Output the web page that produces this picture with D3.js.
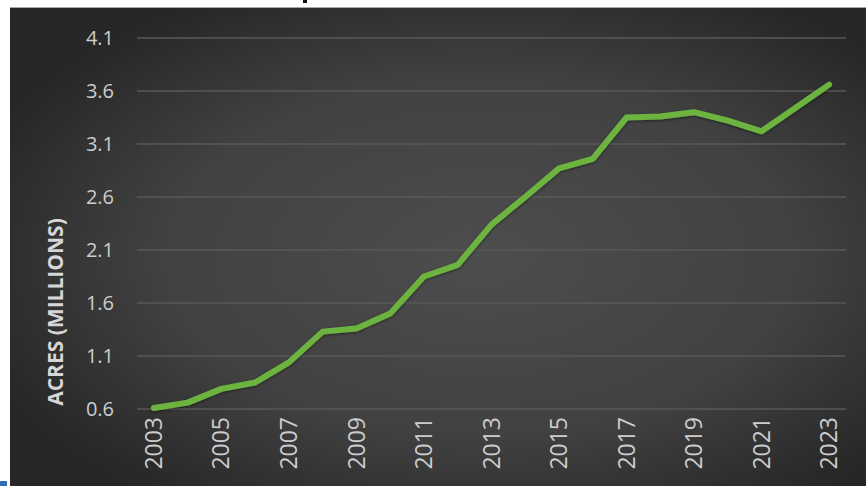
<!DOCTYPE html>
<html lang="en">

<head>
  <meta charset="UTF-8">
  <title>Acres (millions)</title>
  <style>
    body {
      margin: 0;
      background: #fff;
    }

    svg {
      display: block;
    }

    .grid line {
      stroke: #585858;
      stroke-width: 1.5;
    }

    .tick-label {
      font-family: "Open Sans", sans-serif;
      fill: #cdcdcd;
    }

    .y-label {
      font-size: 20px;
    }

    .x-label {
      font-size: 23px;
    }

    .axis-title {
      font-family: "Open Sans", sans-serif;
      font-size: 21px;
      font-weight: bold;
      fill: #d6d6d6;
    }

    .series {
      fill: none;
      stroke: #6cb33f;
      stroke-width: 6;
      stroke-linejoin: round;
      stroke-linecap: round;
    }
  </style>
</head>

<body>
  <div id="chart"></div>

  <script src="https://d3js.org/d3.v7.min.js"></script>

  <script>
    const years = d3.range(2003, 2024);
    const acres = [0.61, 0.66, 0.79, 0.85, 1.04, 1.33, 1.36, 1.50, 1.85, 1.96,
      2.34, 2.60, 2.87, 2.96, 3.35, 3.36, 3.40, 3.32, 3.22, 3.44, 3.66];
    const yTicks = [0.6, 1.1, 1.6, 2.1, 2.6, 3.1, 3.6, 4.1];
    const xLabels = years.filter((d, i) => i % 2 === 0);

    (function () {
      const width = 866;
      const height = 486;
      const panel = { x: 10, y: 8 };
      const plot = { left: 137, right: 846, top: 38, bottom: 409 };

      const svg = d3.select('#chart')
        .append('svg')
        .attr('width', width)
        .attr('height', height);

      const defs = svg.append('defs');
      const grad = defs.append('radialGradient')
        .attr('id', 'bg')
        .attr('cx', '55%')
        .attr('cy', '52%')
        .attr('r', '62%');
      grad.append('stop').attr('offset', '0%').attr('stop-color', '#4d4d4d');
      grad.append('stop').attr('offset', '60%').attr('stop-color', '#414141');
      grad.append('stop').attr('offset', '100%').attr('stop-color', '#272727');

      const shadow = defs.append('filter')
        .attr('id', 'shadow')
        .attr('x', '-5%').attr('y', '-5%')
        .attr('width', '110%').attr('height', '110%');
      shadow.append('feDropShadow')
        .attr('dx', 0).attr('dy', 1)
        .attr('stdDeviation', 1.5)
        .attr('flood-color', '#000')
        .attr('flood-opacity', 0.5);

      // bit of the cropped-off title above the panel
      svg.append('rect')
        .attr('x', 303)
        .attr('y', 0)
        .attr('width', 4)
        .attr('height', 3)
        .attr('fill', '#111');

      // background panel
      svg.append('rect')
        .attr('x', panel.x)
        .attr('y', panel.y - 1)
        .attr('width', width - panel.x)
        .attr('height', 1.5)
        .attr('fill', '#a8a8a8');
      svg.append('rect')
        .attr('x', panel.x)
        .attr('y', panel.y)
        .attr('width', width - panel.x)
        .attr('height', height - panel.y)
        .attr('fill', 'url(#bg)');

      // small blue mark bottom-left
      svg.append('rect')
        .attr('x', 0)
        .attr('y', 481)
        .attr('width', 7)
        .attr('height', 5)
        .attr('fill', '#2f6db5');

      const x = d3.scaleBand()
        .domain(years)
        .range([plot.left, plot.right]);

      const y = d3.scaleLinear()
        .domain([0.6, 4.1])
        .range([plot.bottom, plot.top]);

      // gridlines
      svg.append('g')
        .classed('grid', true)
        .selectAll('line')
        .data(yTicks)
        .enter()
        .append('line')
        .attr('x1', plot.left)
        .attr('x2', plot.right)
        .attr('y1', d => y(d))
        .attr('y2', d => y(d));

      // y tick labels
      svg.append('g')
        .selectAll('text')
        .data(yTicks)
        .enter()
        .append('text')
        .classed('tick-label y-label', true)
        .attr('x', 114)
        .attr('y', d => y(d))
        .attr('dy', '0.35em')
        .attr('text-anchor', 'end')
        .text(d => d.toFixed(1));

      // x tick labels, rotated
      svg.append('g')
        .selectAll('text')
        .data(xLabels)
        .enter()
        .append('text')
        .classed('tick-label x-label', true)
        .attr('transform', d => `translate(${x(d) + x.bandwidth() / 2},417) rotate(-90)`)
        .attr('dy', '0.35em')
        .attr('text-anchor', 'end')
        .text(d => d);

      // axis title
      svg.append('text')
        .classed('axis-title', true)
        .attr('transform', 'translate(56,312) rotate(-90)')
        .attr('dy', '0.35em')
        .attr('text-anchor', 'middle')
        .text('ACRES (MILLIONS)');

      // line
      const line = d3.line()
        .x((d, i) => x(years[i]) + x.bandwidth() / 2)
        .y(d => y(d));

      svg.append('path')
        .datum(acres)
        .classed('series', true)
        .attr('filter', 'url(#shadow)')
        .attr('d', line);
    })();
  </script>
</body>

</html>
